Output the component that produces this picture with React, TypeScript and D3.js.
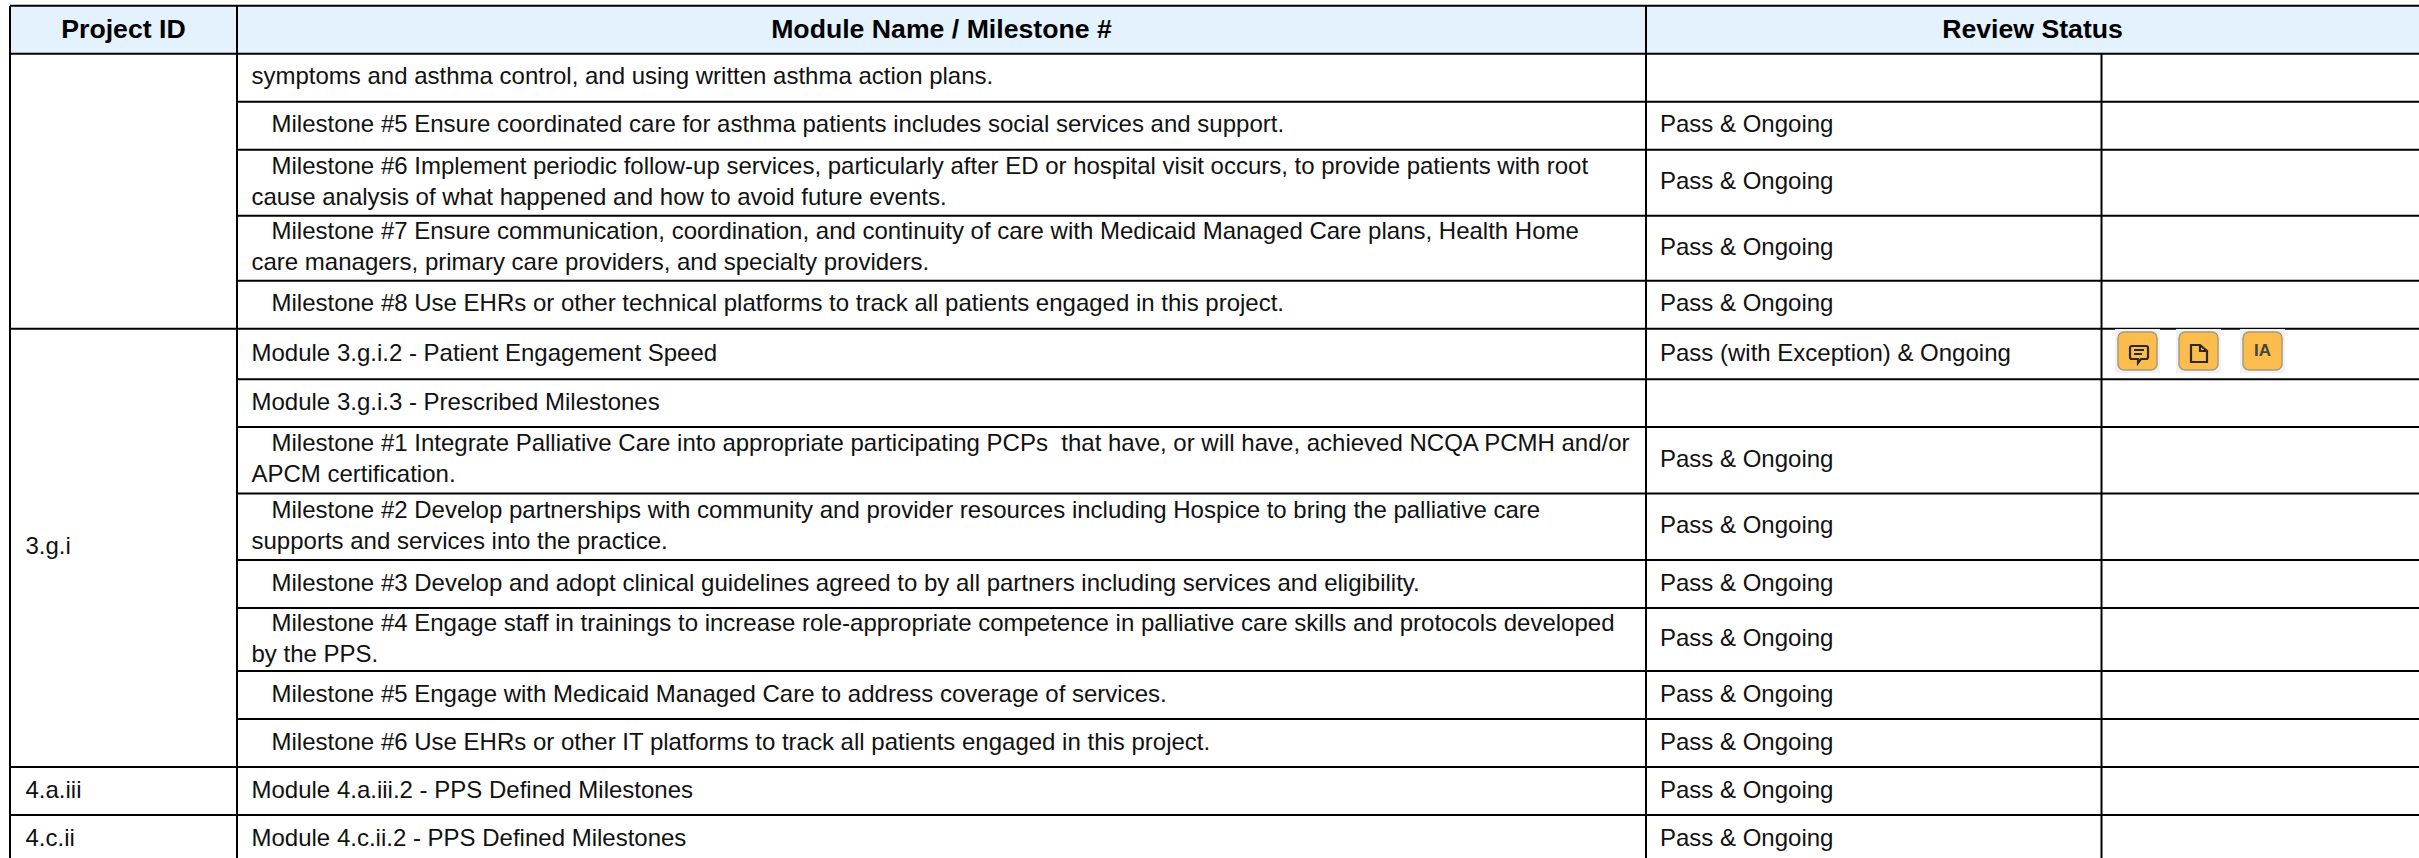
import React, { useEffect, useRef } from "react";
import { select, cumsum, scaleOrdinal } from "d3";

const WIDTH = 2419;
const HEIGHT = 858;
const INDENT = "\u00a0\u00a0\u00a0";

const headers = ["Project ID", "Module Name / Milestone #", "Review Status"];

const projectIds = [
  { label: "3.g.i", from: 5, to: 12 },
  { label: "4.a.iii", from: 13, to: 13 },
  { label: "4.c.ii", from: 14, to: 14 },
];

const moduleLines = [
  ["symptoms and asthma control, and using written asthma action plans."],
  [INDENT + "Milestone #5 Ensure coordinated care for asthma patients includes social services and support."],
  [
    INDENT + "Milestone #6 Implement periodic follow-up services, particularly after ED or hospital visit occurs, to provide patients with root",
    "cause analysis of what happened and how to avoid future events.",
  ],
  [
    INDENT + "Milestone #7 Ensure communication, coordination, and continuity of care with Medicaid Managed Care plans, Health Home",
    "care managers, primary care providers, and specialty providers.",
  ],
  [INDENT + "Milestone #8 Use EHRs or other technical platforms to track all patients engaged in this project."],
  ["Module 3.g.i.2 - Patient Engagement Speed"],
  ["Module 3.g.i.3 - Prescribed Milestones"],
  [
    INDENT + "Milestone #1 Integrate Palliative Care into appropriate participating PCPs\u00a0 that have, or will have, achieved NCQA PCMH and/or",
    "APCM certification.",
  ],
  [
    INDENT + "Milestone #2 Develop partnerships with community and provider resources including Hospice to bring the palliative care",
    "supports and services into the practice.",
  ],
  [INDENT + "Milestone #3 Develop and adopt clinical guidelines agreed to by all partners including services and eligibility."],
  [
    INDENT + "Milestone #4 Engage staff in trainings to increase role-appropriate competence in palliative care skills and protocols developed",
    "by the PPS.",
  ],
  [INDENT + "Milestone #5 Engage with Medicaid Managed Care to address coverage of services."],
  [INDENT + "Milestone #6 Use EHRs or other IT platforms to track all patients engaged in this project."],
  ["Module 4.a.iii.2 - PPS Defined Milestones"],
  ["Module 4.c.ii.2 - PPS Defined Milestones"],
];

const PASS = "Pass & Ongoing";
const statuses = [
  "", PASS, PASS, PASS, PASS,
  "Pass (with Exception) & Ongoing",
  "", PASS, PASS, PASS, PASS, PASS, PASS, PASS, PASS,
];

// one entry per table row
const rowHeights = [48, 48, 66, 65, 48, 50.6, 47.7, 66.6, 66.4, 48, 63, 48, 48, 48, 48];

// the icons in the row that has a comment, document and IA button
const icons = ["comment", "document", "IA"];

const font = "'Liberation Sans', Arial, sans-serif";
const top = 5.7;
const headerBottom = 53.7;
const colX = [10, 237, 1646, 2101.5, WIDTH + 4];
const rowY = [headerBottom, ...Array.from(cumsum(rowHeights), (h) => headerBottom + h)];
const LINE = 31;
const BASE = 6.5;

// shifted a little for each icon, as in the screenshot
const iconX = scaleOrdinal<string, number>().domain(icons).range([2118, 2179, 2243]);

export default function App() {
  const svgRef = useRef<SVGSVGElement>(null);

  useEffect(() => {
    const svg = select(svgRef.current);
    svg.selectAll("*").remove();

    svg
      .append("rect")
      .attr("x", colX[0])
      .attr("y", top)
      .attr("width", WIDTH - colX[0] + 4)
      .attr("height", headerBottom - top)
      .attr("fill", "#e3f2fd");

    // header text
    const headerCenters = [
      (colX[0] + colX[1]) / 2,
      (colX[1] + colX[2]) / 2,
      (colX[2] + WIDTH) / 2,
    ];
    svg
      .selectAll(".header")
      .data(headers)
      .join("text")
      .attr("class", "header")
      .attr("x", (d, i) => headerCenters[i])
      .attr("y", 38)
      .attr("text-anchor", "middle")
      .attr("font-family", font)
      .attr("font-weight", "bold")
      .attr("font-size", 26.67)
      .attr("fill", "#000")
      .text((d) => d);

    // module text
    const modules = svg.append("g").attr("font-family", font).attr("font-size", 24).attr("fill", "#111");
    moduleLines.forEach((lines, i) => {
      const mid = (rowY[i] + rowY[i + 1]) / 2;
      const first = mid + BASE - ((lines.length - 1) * LINE) / 2;
      modules
        .selectAll(`.line-${i}`)
        .data(lines)
        .join("text")
        .attr("class", `line-${i}`)
        .attr("x", colX[1] + 14.5)
        .attr("y", (d, j) => first + j * LINE)
        .text((d) => d);
    });

    // status text
    modules
      .selectAll(".status")
      .data(statuses)
      .join("text")
      .attr("class", "status")
      .attr("x", colX[2] + 14)
      .attr("y", (d, i) => (rowY[i] + rowY[i + 1]) / 2 + BASE)
      .text((d) => d);

    // project id text
    modules
      .selectAll(".project")
      .data(projectIds)
      .join("text")
      .attr("class", "project")
      .attr("x", colX[0] + 15.5)
      .attr("y", (d) => (rowY[d.from] + rowY[d.to + 1]) / 2 + BASE)
      .text((d) => d.label);

    // grid lines
    const grid = svg.append("g").attr("stroke", "#000").attr("stroke-width", 2);
    grid.append("line").attr("x1", colX[0]).attr("x2", WIDTH).attr("y1", top).attr("y2", top);
    grid.append("line").attr("x1", colX[0]).attr("x2", WIDTH).attr("y1", headerBottom).attr("y2", headerBottom);
    colX.slice(0, 3).forEach((x) => {
      grid.append("line").attr("x1", x).attr("x2", x).attr("y1", top).attr("y2", HEIGHT);
    });
    grid.append("line").attr("x1", colX[3]).attr("x2", colX[3]).attr("y1", headerBottom).attr("y2", HEIGHT);

    rowY.slice(1, -1).forEach((y, i) => {
      // rows 0-4 and 5-12 share a merged project cell
      const merged = i !== 4 && i !== 12 && i !== 13;
      grid
        .append("line")
        .attr("x1", merged ? colX[1] : colX[0])
        .attr("x2", WIDTH)
        .attr("y1", y)
        .attr("y2", y);
    });

    // icons
    const iconG = svg
      .selectAll(".icon")
      .data(icons)
      .join("g")
      .attr("class", "icon")
      .attr("transform", (d) => `translate(${iconX(d)},332)`);
    iconG.append("rect").attr("x", -3).attr("y", -3).attr("width", 45).attr("height", 44).attr("fill", "#f1f1f1");
    iconG
      .append("rect")
      .attr("width", 39)
      .attr("height", 38)
      .attr("rx", 6)
      .attr("fill", "#fdbd4c")
      .attr("stroke", "#a89a78")
      .attr("stroke-width", 1.5);
    iconG
      .filter((d) => d === "comment")
      .append("path")
      .attr("d", "M14 14h14a2 2 0 0 1 2 2v9a2 2 0 0 1-2 2h-5l-3 4v-4h-6a2 2 0 0 1-2-2v-9a2 2 0 0 1 2-2zM16 18h10M16 22h8")
      .attr("fill", "none")
      .attr("stroke", "#2a2a2a")
      .attr("stroke-width", 2.2);
    iconG
      .filter((d) => d === "document")
      .append("path")
      .attr("d", "M12 13h9l7 6v11h-16zM21 13v6h7")
      .attr("fill", "none")
      .attr("stroke", "#2a2a2a")
      .attr("stroke-width", 2.2);
    iconG
      .filter((d) => d === "IA")
      .append("text")
      .attr("x", 19.5)
      .attr("y", 24)
      .attr("text-anchor", "middle")
      .attr("font-family", font)
      .attr("font-weight", "bold")
      .attr("font-size", 17)
      .attr("fill", "#444")
      .text("IA");
  }, []);

  return (
    <svg
      ref={svgRef}
      width={WIDTH}
      height={HEIGHT}
      style={{ position: "absolute", left: 0, top: 0, display: "block", background: "#fff" }}
    />
  );
}
